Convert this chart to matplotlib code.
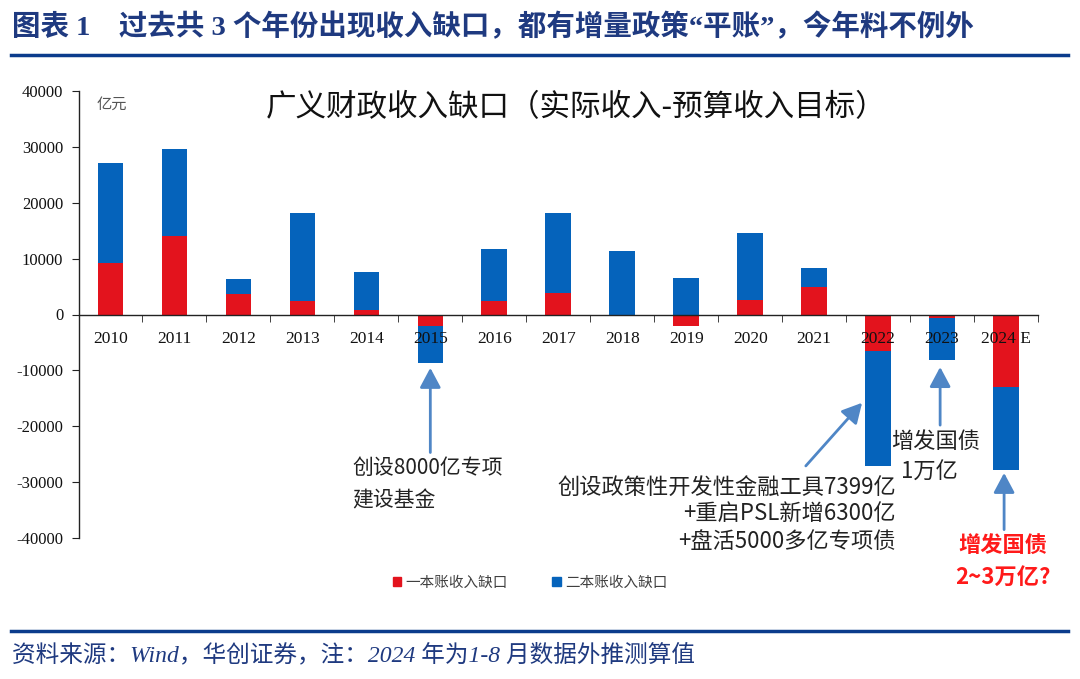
import numpy as np
import matplotlib.pyplot as plt
from matplotlib.patches import Patch
from matplotlib.lines import Line2D

plt.rcParams['font.family'] = ['Liberation Serif', 'Noto Sans CJK SC', 'DejaVu Sans']
plt.rcParams['axes.unicode_minus'] = False

# data, 亿元
years = ['2010', '2011', '2012', '2013', '2014', '2015', '2016', '2017',
         '2018', '2019', '2020', '2021', '2022', '2023', '2024 E']
gap_one = [9200, 14100, 3600, 2500, 800, -2100, 2400, 3900,
           0, -2100, 2600, 4900, -6600, -700, -12900]      # 一本账收入缺口
gap_two = [17900, 15600, 2800, 15600, 6800, -6500, 9400, 14300,
           11400, 6500, 12000, 3400, -20600, -7400, -15000]  # 二本账收入缺口

RED = '#E3131D'
BLUE = '#0563BB'
ARROW = '#4F86C6'
NAVY = '#1F3A80'
CJK = ['Noto Sans CJK SC', 'DejaVu Sans']

W, H = 1080, 679
fig = plt.figure(figsize=(W / 100, H / 100), dpi=100)
ax = fig.add_axes([78.5 / W, 1 - 538 / H, (1038 - 78.5) / W, (538 - 91) / H])

x = np.arange(len(years))
g1 = np.array(gap_one, dtype=float)
g2 = np.array(gap_two, dtype=float)
bottom2 = np.where(np.sign(g1) == np.sign(g2), g1, 0)

ax.bar(x, g1, width=0.4, color=RED, zorder=1)
ax.bar(x, g2, width=0.4, bottom=bottom2, color=BLUE, zorder=1)

ax.set_xlim(-0.5, len(years) - 0.5)
ax.set_ylim(-40000, 40000)
ax.set_yticks(np.arange(-40000, 40001, 10000))
ax.spines['top'].set_visible(False)
ax.spines['right'].set_visible(False)
ax.spines['bottom'].set_position(('data', 0))
for s in ('left', 'bottom'):
    ax.spines[s].set_color('#222222')
    ax.spines[s].set_linewidth(1)

ax.set_xticks(x)
ax.set_xticklabels(years)
ax.set_xticks(np.arange(-0.5, len(years), 1), minor=True)
ax.tick_params(axis='x', which='major', length=0, pad=12, labelsize=12.5, labelcolor='#111111')
ax.tick_params(axis='x', which='minor', length=5, direction='out', color='#222222')
ax.tick_params(axis='y', length=5, direction='out', pad=6, labelsize=12, labelcolor='#111111', color='#222222')

# titles inside the chart
fig.text(576 / W, 1 - 108 / H, '广义财政收入缺口（实际收入-预算收入目标）',
         ha='center', va='center', fontsize=22, family=CJK, color='#111111')
fig.text(97 / W, 1 - 104 / H, '亿元', ha='left', va='center', fontsize=11,
         family=CJK, color='#555555')

# annotations
arrow_kw = dict(arrowstyle='-|>,head_length=0.6,head_width=0.32', color=ARROW,
                lw=2, shrinkA=0, shrinkB=0, mutation_scale=20)
ax.annotate('', xy=(5, g1[5] + g2[5] - 950), xytext=(5, -24700), arrowprops=arrow_kw)
ax.annotate('', xy=(11.75, -15800), xytext=(10.87, -27100), arrowprops=arrow_kw)
ax.annotate('', xy=(12.97, g1[13] + g2[13] - 1300), xytext=(12.97, -19800), arrowprops=arrow_kw)
ax.annotate('', xy=(13.97, g1[14] + g2[14] - 450), xytext=(13.97, -38500), arrowprops=arrow_kw)

note_kw = dict(fontsize=15, color='#222222', family=CJK, va='center')
fig.text(352 / W, 1 - 468 / H, '创设8000亿专项', ha='left', **note_kw)
fig.text(352 / W, 1 - 500 / H, '建设基金', ha='left', **note_kw)
big_kw = dict(note_kw, fontsize=16)
fig.text(896 / W, 1 - 487 / H, '创设政策性开发性金融工具7399亿', ha='right', **big_kw)
fig.text(896 / W, 1 - 514 / H, '+重启PSL新增6300亿', ha='right', **big_kw)
fig.text(896 / W, 1 - 541 / H, '+盘活5000多亿专项债', ha='right', **big_kw)
fig.text(936 / W, 1 - 441 / H, '增发国债', ha='center', **big_kw)
fig.text(929 / W, 1 - 472 / H, '1万亿', ha='center', **big_kw)
fig.text(1003 / W, 1 - 545 / H, '增发国债', ha='center', va='center', fontsize=16,
         color='#FF1A1A', family=CJK, fontweight='bold')
fig.text(1003 / W, 1 - 577 / H, '2~3万亿?', ha='center', va='center', fontsize=16,
         color='#FF1A1A', family=CJK, fontweight='bold')

# legend
handles = [Patch(color=RED), Patch(color=BLUE)]
fig.legend(handles, ['一本账收入缺口', '二本账收入缺口'], loc='center',
           bbox_to_anchor=(530 / W, 1 - 583 / H), ncol=2, frameon=False,
           handlelength=0.6, handleheight=0.6, handletextpad=0.3, columnspacing=3.0,
           prop={'family': CJK, 'size': 10.5}, labelcolor='#404040')

# header / footer
fig.text(12 / W, 1 - 27 / H, '图表 1　过去共 3 个年份出现收入缺口，都有增量政策“平账”，今年料不例外',
         ha='left', va='center', fontsize=20.5, fontweight='bold', color=NAVY,
         family=['Liberation Serif', 'Noto Sans CJK SC'])
fig.add_artist(Line2D([11 / W, 1068 / W], [1 - 55 / H] * 2, transform=fig.transFigure,
                      color='#0B3C8C', lw=2.5))
fig.add_artist(Line2D([11 / W, 1068 / W], [1 - 631 / H] * 2, transform=fig.transFigure,
                      color='#0B3C8C', lw=2.5))
fig.text(12 / W, 1 - 655 / H, '资料来源：Wind，华创证券，注：2024 年为1-8 月数据外推测算值',
         ha='left', va='center', fontsize=17, style='italic', color=NAVY,
         family=['Liberation Serif', 'Noto Sans CJK SC'])

fig.savefig('out.png', dpi=100)
